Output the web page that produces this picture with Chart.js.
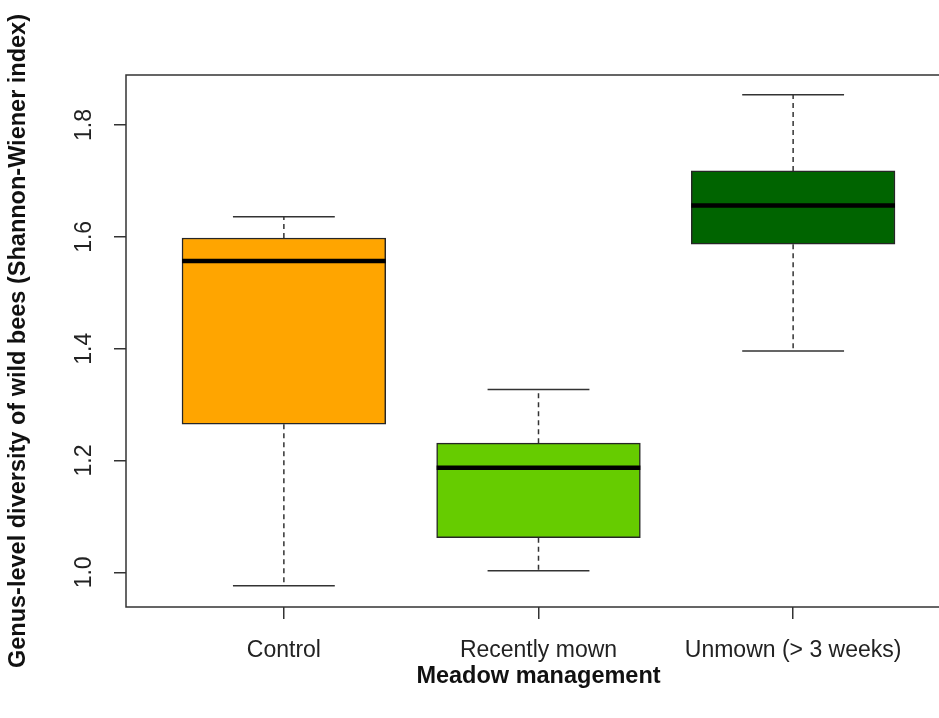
<!DOCTYPE html>
<html>
<head>
<meta charset="utf-8">
<script src="https://cdn.jsdelivr.net/npm/chart.js@4/dist/chart.umd.min.js"></script>
<style>
  html, body { margin: 0; padding: 0; background: #ffffff; overflow: hidden; }
  #wrap { width: 960px; height: 718px; }
</style>
</head>
<body>
<div id="wrap"><canvas id="chart" width="960" height="718"></canvas></div>
<script>
// Genus-level diversity of wild bees per meadow management type (box plot summary)
const categories = ['Control', 'Recently mown', 'Unmown (> 3 weeks)'];
const whiskerLow  = [0.976, 1.003, 1.396];
const lowerQuart  = [1.265, 1.062, 1.587];
const medians     = [1.557, 1.187, 1.656];
const upperQuart  = [1.598, 1.231, 1.718];
const whiskerHigh = [1.636, 1.327, 1.854];
const yTicks = [1.0, 1.2, 1.4, 1.6, 1.8];
const boxColors = ['#FFA500', '#66CC00', '#006400'];

const INK = '#222222';
const FONT = 'Arial, "Liberation Sans", Helvetica, sans-serif';
const BOX_HALF = 0.4;     // half box width, in category units
const CAP_HALF = 0.2;     // half staple width, in category units

Chart.defaults.font.family = FONT;
Chart.defaults.color = INK;

// Whiskers, staples, medians, frame and rotated y labels
const boxExtras = {
  id: 'boxExtras',
  beforeDatasetsDraw(chart) {
    const ctx = chart.ctx, xs = chart.scales.x, ys = chart.scales.y;
    ctx.save();
    ctx.strokeStyle = '#333333';
    ctx.lineWidth = 1.5;
    categories.forEach((c, i) => {
      const px = xs.getPixelForValue(i + 1);
      // dashed whiskers
      ctx.setLineDash([5, 4]);
      ctx.beginPath();
      ctx.moveTo(px, ys.getPixelForValue(upperQuart[i]));
      ctx.lineTo(px, ys.getPixelForValue(whiskerHigh[i]));
      ctx.moveTo(px, ys.getPixelForValue(lowerQuart[i]));
      ctx.lineTo(px, ys.getPixelForValue(whiskerLow[i]));
      ctx.stroke();
      // staples
      ctx.setLineDash([]);
      const l = xs.getPixelForValue(i + 1 - CAP_HALF), r = xs.getPixelForValue(i + 1 + CAP_HALF);
      ctx.beginPath();
      [whiskerHigh[i], whiskerLow[i]].forEach(v => {
        const py = ys.getPixelForValue(v);
        ctx.moveTo(l, py); ctx.lineTo(r, py);
      });
      ctx.stroke();
    });
    ctx.restore();
  },
  afterDatasetsDraw(chart) {
    const ctx = chart.ctx, xs = chart.scales.x, ys = chart.scales.y, a = chart.chartArea;
    ctx.save();
    // medians
    ctx.strokeStyle = '#000000';
    ctx.lineWidth = 4.5;
    ctx.lineCap = 'butt';
    categories.forEach((c, i) => {
      const py = ys.getPixelForValue(medians[i]);
      ctx.beginPath();
      ctx.moveTo(xs.getPixelForValue(i + 1 - BOX_HALF), py);
      ctx.lineTo(xs.getPixelForValue(i + 1 + BOX_HALF), py);
      ctx.stroke();
    });
    // plot frame
    ctx.strokeStyle = '#333333';
    ctx.lineWidth = 1.5;
    ctx.strokeRect(a.left, a.top, a.right - a.left, a.bottom - a.top);
    // rotated y tick labels
    ctx.fillStyle = INK;
    ctx.font = '23px ' + FONT;
    ctx.textAlign = 'center';
    ctx.textBaseline = 'middle';
    ys.ticks.forEach(t => {
      ctx.save();
      ctx.translate(85, ys.getPixelForValue(t.value));
      ctx.rotate(-Math.PI / 2);
      ctx.fillText(t.value.toFixed(1), 0, 0);
      ctx.restore();
    });
    ctx.restore();
  }
};

new Chart(document.getElementById('chart'), {
  type: 'bar',
  data: {
    datasets: [{
      data: categories.map((c, i) => ({ x: i + 1, y: [lowerQuart[i], upperQuart[i]] })),
      backgroundColor: boxColors,
      borderColor: '#262626',
      borderWidth: 1.5,
      borderSkipped: false,
      barThickness: 'flex',
      categoryPercentage: 0.8,
      barPercentage: 1.0
    }]
  },
  options: {
    responsive: false,
    animation: false,
    layout: { padding: { left: 0, top: 75, right: 9, bottom: 0 } },
    plugins: { legend: { display: false }, tooltip: { enabled: false } },
    scales: {
      x: {
        type: 'linear',
        offset: false,
        min: 0.38,
        max: 3.62,
        afterBuildTicks: s => { s.ticks = categories.map((c, i) => ({ value: i + 1 })); },
        afterFit: s => { s.height = 111; },
        border: { display: false },
        grid: { offset: false, drawOnChartArea: false, drawTicks: true, tickLength: 12, color: '#333333', lineWidth: 1.5 },
        ticks: {
          autoSkip: false, maxRotation: 0, minRotation: 0, padding: 18,
          font: { size: 23 }, color: INK,
          callback: v => categories[Math.round(v) - 1]
        },
        title: {
          display: true, text: 'Meadow management',
          font: { size: 23.5, weight: 'bold' }, color: '#111111',
          padding: { top: 0, bottom: 27 }
        }
      },
      y: {
        min: 0.938,
        max: 1.8895,
        afterBuildTicks: s => { s.ticks = yTicks.map(v => ({ value: v })); },
        afterFit: s => { s.width = 126; },
        border: { display: false },
        grid: { drawOnChartArea: false, drawTicks: true, tickLength: 12, color: '#333333', lineWidth: 1.5 },
        ticks: { display: false },
        title: {
          display: true, text: 'Genus-level diversity of wild bees (Shannon-Wiener index)',
          font: { size: 23.5, weight: 'bold' }, color: '#111111',
          padding: { top: 4, bottom: 0 }
        }
      }
    }
  },
  plugins: [boxExtras]
});
</script>
</body>
</html>
